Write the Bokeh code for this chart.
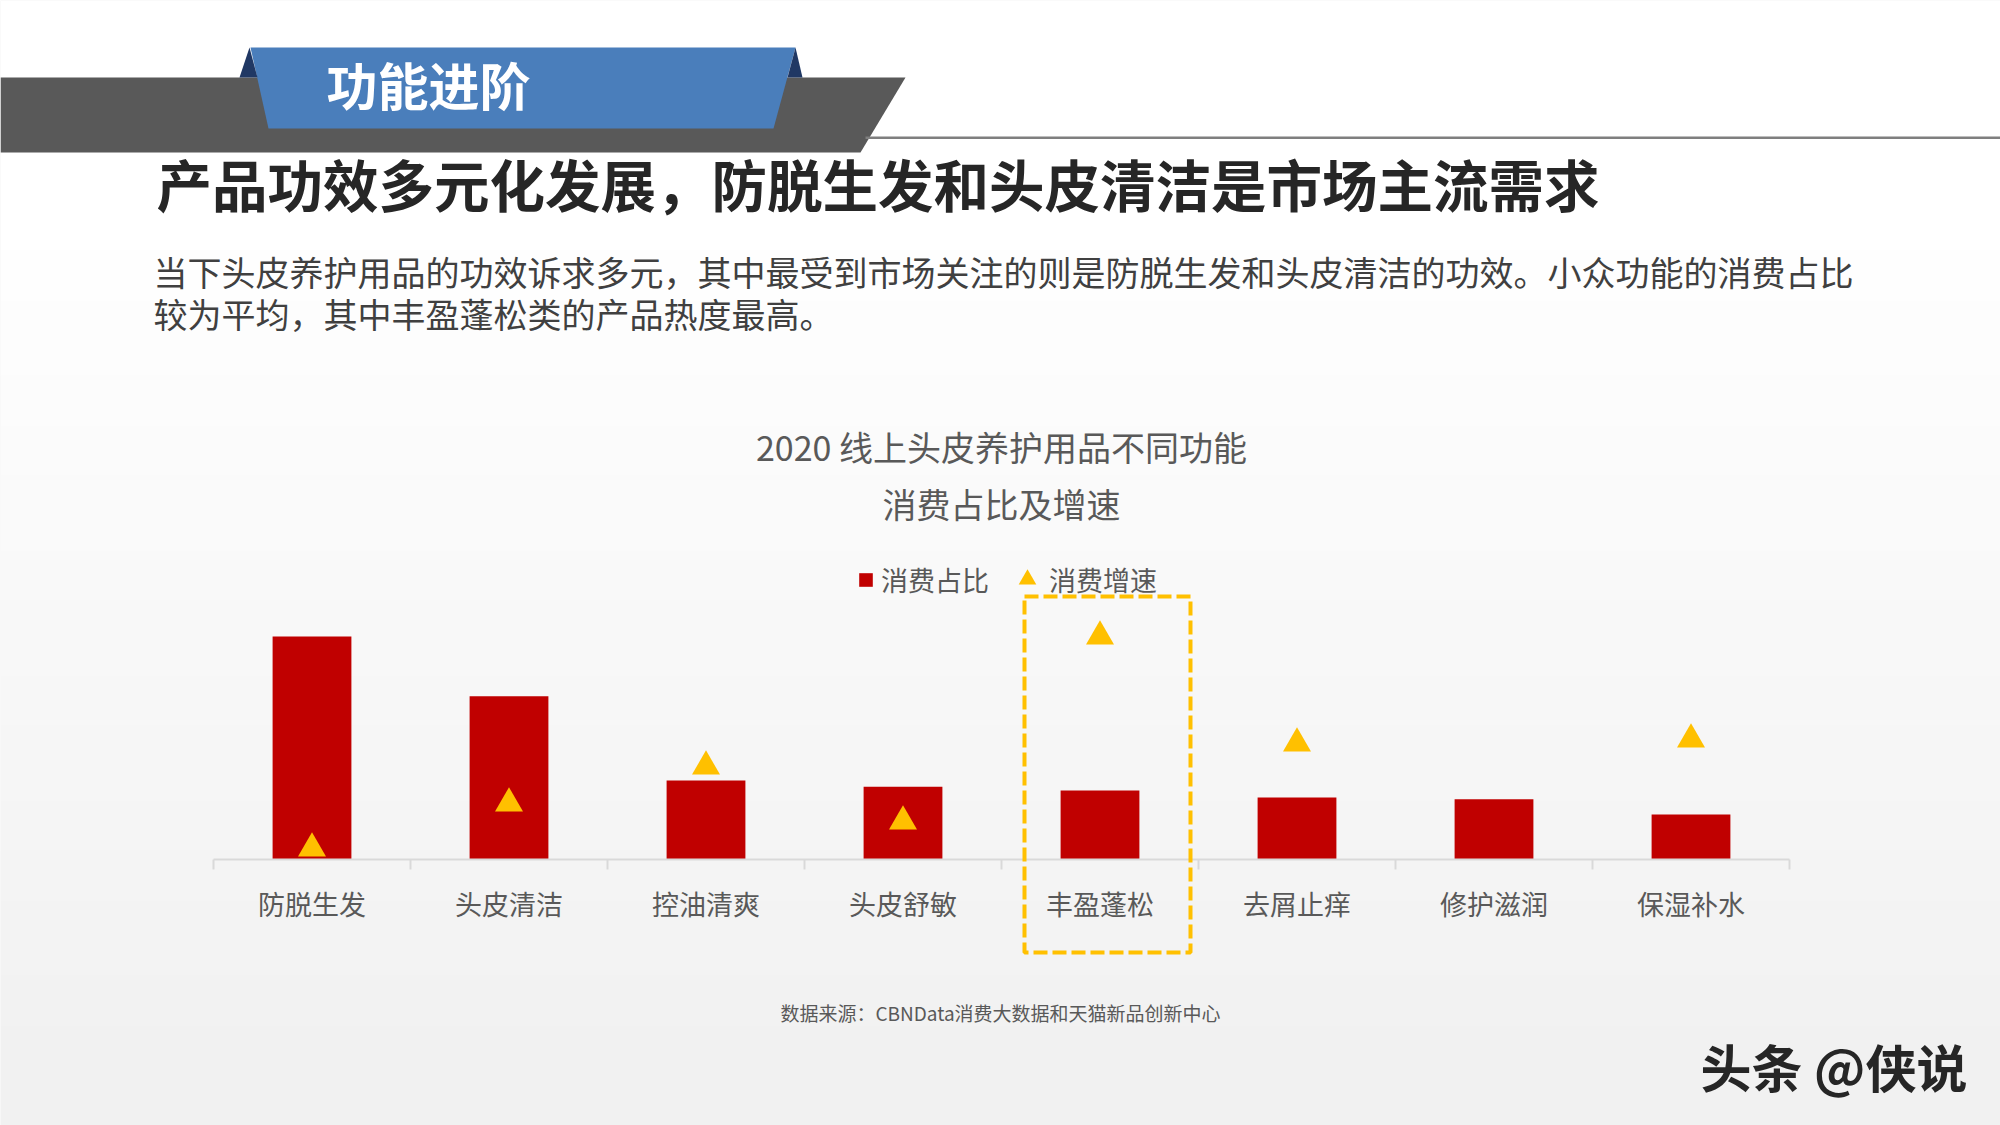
import numpy as np
from bokeh.plotting import figure
from bokeh.models import (Range1d, FixedTicker, BoxAnnotation, PolyAnnotation,
                          Label, Legend, LegendItem)
from bokeh.embed import file_html
from bokeh.resources import INLINE

# ---------------- data ----------------
categories = ["防脱生发", "头皮清洁", "控油清爽", "头皮舒敏", "丰盈蓬松", "去屑止痒", "修护滋润", "保湿补水"]
share = [28.8, 21.1, 10.2, 9.4, 8.9, 8.0, 7.8, 5.8]            # 消费占比 (%)
growth = [11, 56, 93, 38, 223, 116, np.nan, 120]               # 消费增速 (%)
series_names = ["消费占比", "消费增速"]
chart_title = ["2020 线上头皮养护用品不同功能", "消费占比及增速"]
banner = "功能进阶"
headline = "产品功效多元化发展，防脱生发和头皮清洁是市场主流需求"
body = ["当下头皮养护用品的功效诉求多元，其中最受到市场关注的则是防脱生发和头皮清洁的功效。小众功能的消费占比",
        "较为平均，其中丰盈蓬松类的产品热度最高。"]
source = "数据来源：CBNData消费大数据和天猫新品创新中心"
watermark = "头条 @侠说"

FONT = "Noto Sans CJK SC"
W, H = 2000, 1125
M = 0
# page-pixel -> data helpers (layout only)
X0, STEP = 213.0, 197.0
BASE, PXU = 859.0, 7.74
def dx(fx): return (fx - X0) / STEP
def dy(fy): return (BASE - fy) / PXU

p = figure(width=W, height=H, output_backend="svg", toolbar_location=None,
           x_range=Range1d(dx(M), dx(M + W)), y_range=Range1d(dy(M + H), dy(M)),
           min_border=0, y_axis_location=None, x_axis_location="below")
p.outline_line_color = None
p.grid.visible = False
p.background_fill_color = "#f1f1f1"
p.border_fill_color = "#f1f1f1"
p.extra_y_ranges = {"growth": Range1d(dy(M + H) * PXU, dy(M) * PXU)}

# background gradient
for fy in range(0, 1125, 25):
    v = 255 if fy < 200 else max(241, round(255 - 14 * (fy - 200) / 850))
    p.add_layout(BoxAnnotation(left=dx(0), right=dx(2000), top=dy(fy), bottom=dy(fy + 26),
                               fill_color="#%02x%02x%02x" % (v, v, v), fill_alpha=1,
                               line_color=None, level="underlay"))

# header shapes
def poly(pts, color):
    p.add_layout(PolyAnnotation(xs=[dx(a) for a, b in pts], ys=[dy(b) for a, b in pts],
                                fill_color=color, fill_alpha=1, line_color=None))
poly([(0, 77), (905, 77), (860, 152), (0, 152)], "#595959")
p.add_layout(BoxAnnotation(left=dx(865), right=dx(2000), top=dy(136), bottom=dy(138.5),
                           fill_color="#7f7f7f", fill_alpha=1, line_color=None))
poly([(250, 47), (795, 47), (773, 128), (268, 128)], "#4a7ebb")
poly([(249, 47), (239, 77), (257, 77)], "#203864")
poly([(795, 47), (787, 77), (802, 77)], "#203864")

def lab(text, fx, fy, size, color, bold=False, align="left"):
    p.add_layout(Label(x=dx(fx), y=dy(fy), text=text, text_font=FONT,
                       text_font_size=f"{size}px", text_color=color,
                       text_font_style="bold" if bold else "normal",
                       text_align=align, text_baseline="middle"))

lab(banner, 326, 83, 51, "#ffffff", bold=True)
lab(headline, 156, 182, 55.5, "#262626", bold=True)
lab(body[0], 153, 271, 34, "#404040")
lab(body[1], 153, 313, 34, "#404040")
lab(chart_title[0], 1001, 446, 34, "#595959", align="center")
lab(chart_title[1], 1001, 503, 34, "#595959", align="center")
lab(source, 1000, 1012, 19, "#595959", align="center")
lab(watermark, 1700, 1065, 51, "#262626", bold=True)

# ---------------- marks ----------------
centers = np.arange(len(categories)) + 0.5
bars = p.vbar(x=centers, top=share, bottom=0, width=0.4,
              fill_color="#c00000", line_color=None)
tris = p.scatter(x=centers, y=np.array(growth, dtype=float), y_range_name="growth",
                 marker="triangle", size=28, fill_color="#ffc000", line_color=None)

# highlight box around 丰盈蓬松
p.add_layout(BoxAnnotation(left=dx(1024), right=dx(1190), top=dy(596), bottom=dy(952),
                           fill_alpha=0, line_color="#ffc000", line_alpha=1, line_width=4,
                           line_dash="14 5"))

# ---------------- axis ----------------
ax = p.xaxis[0]
ax.fixed_location = 0
ax.bounds = (0, len(categories))
ax.ticker = FixedTicker(ticks=list(centers), minor_ticks=list(range(len(categories) + 1)))
ax.major_label_overrides = {float(c): n for c, n in zip(centers, categories)}
ax.axis_line_color = "#d9d9d9"
ax.axis_line_width = 2
ax.major_tick_line_color = None
ax.major_tick_out = 0
ax.major_tick_in = 0
ax.minor_tick_line_color = "#d9d9d9"
ax.minor_tick_line_width = 2
ax.minor_tick_out = 10
ax.minor_tick_in = 0
ax.major_label_standoff = 14
ax.major_label_text_font = FONT
ax.major_label_text_font_size = "27px"
ax.major_label_text_color = "#595959"

# ---------------- legend ----------------
common = dict(padding=0, margin=0, border_line_color=None, background_fill_alpha=0,
              label_text_font=FONT, label_text_font_size="27px", label_text_color="#595959")
leg1 = Legend(items=[LegendItem(label=series_names[0], renderers=[bars])],
              location=(857 - M, (M + H) - 599), glyph_width=17, glyph_height=17,
              label_standoff=7, **common)
leg2 = Legend(items=[LegendItem(label=series_names[1], renderers=[tris])],
              location=(1005 - M, (M + H) - 601), glyph_width=44, glyph_height=44,
              label_standoff=0, **common)
p.add_layout(leg1)
p.add_layout(leg2)

open("out.html", "w").write(file_html(p, INLINE))
